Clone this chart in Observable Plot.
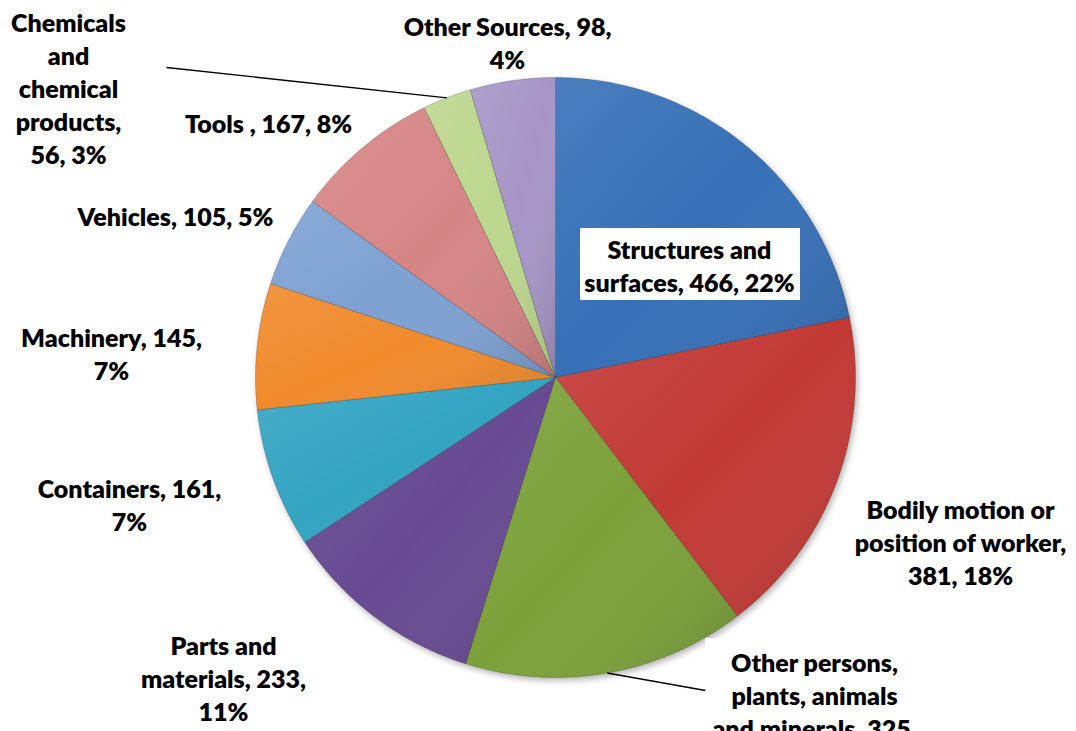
<!DOCTYPE html>
<html><head><meta charset="utf-8">
<script src="https://cdn.jsdelivr.net/npm/d3@7"></script>
<script src="https://cdn.jsdelivr.net/npm/@observablehq/plot@0.6"></script>
<style>
html,body{margin:0;padding:0;background:#fff;}
#chart{width:1076px;height:731px;overflow:hidden;}
</style></head><body><div id="chart"></div>
<script>
// ---- data ----
const categories = ["Structures and surfaces","Bodily motion or position of worker","Other persons, plants, animals and minerals","Parts and materials","Containers","Machinery","Vehicles","Tools","Chemicals and chemical products","Other Sources"];
const values = [466,381,325,233,161,145,105,167,56,98];
const labelTexts = [
  "Structures and\nsurfaces, 466, 22%",
  "Bodily motion or\nposition of worker,\n381, 18%",
  "Other persons,\nplants, animals\nand minerals, 325,\n15%",
  "Parts and\nmaterials, 233,\n11%",
  "Containers, 161,\n7%",
  "Machinery, 145,\n7%",
  "Vehicles, 105, 5%",
  "Tools , 167, 8%",
  "Chemicals\nand\nchemical\nproducts,\n56, 3%",
  "Other Sources, 98,\n4%"
];
// ---- style / layout ----
const colors = ["#3670b7","#c23935","#7ca13a","#674a92","#33a4c2","#f08a2c","#7ea1d2","#d68585","#bcd78e","#a695c6"];
const W = 1076, H = 731, cx = 555, cy = 377, R = 300;
const labelPos = [[689,264],[960,541],[814,710],[223,677],[129,503],[111,352],[175,215],[268,122],[68,87],[507,41]];
const boxes = [{x1:580,x2:800,y1:228,y2:300},{x1:705,x2:925,y1:638,y2:760}];
const leaderEnds = [{i:8, x:166, y:67},{i:2, x:705, y:690}];

const pie = d3.pie().sort(null)(values);
const slicePts = [];
pie.forEach((p, i) => {
  const cat = categories[i];
  slicePts.push({cat, x: cx, y: cy});
  const n = Math.max(2, Math.ceil((p.endAngle - p.startAngle) / 0.01));
  for (let k = 0; k <= n; k++) {
    const a = p.startAngle + (p.endAngle - p.startAngle) * k / n;
    slicePts.push({cat, x: cx + R * Math.sin(a), y: cy - R * Math.cos(a)});
  }
  slicePts.push({cat, x: cx, y: cy});
});
const leaders = leaderEnds.map(d => {
  const p = pie[d.i], a = (p.startAngle + p.endAngle) / 2;
  return {x1: cx + R * Math.sin(a), y1: cy - R * Math.cos(a), x2: d.x, y2: d.y};
});
const labels = labelTexts.map((t, i) => ({text: t, x: labelPos[i][0], y: labelPos[i][1]}));

const defs = () => {
  const g = d3.create("svg:defs");
  const lg = g.append("linearGradient").attr("id", "bevel").attr("x1", 0).attr("y1", 0).attr("x2", 1).attr("y2", 1);
  lg.append("stop").attr("offset", "0%").attr("stop-color", "#fff").attr("stop-opacity", 0.1);
  lg.append("stop").attr("offset", "50%").attr("stop-color", "#fff").attr("stop-opacity", 0);
  lg.append("stop").attr("offset", "100%").attr("stop-color", "#000").attr("stop-opacity", 0.15);
  return g.node();
};

const font = "Lato,'Liberation Sans Narrow',Roboto,sans-serif";

const chart = Plot.plot({
  width: W, height: H, margin: 0,
  x: {type: "linear", domain: [0, W], range: [0, W], axis: null},
  y: {type: "linear", domain: [0, H], range: [0, H], axis: null},
  color: {type: "ordinal", domain: categories, range: colors},
  style: {background: "white", fontFamily: font},
  marks: [
    defs,
    Plot.line(slicePts, {x: "x", y: "y", z: "cat", fill: "cat", stroke: "#000000", strokeOpacity: 0.18, strokeWidth: 1, curve: "linear"}),
    Plot.line(slicePts, {x: "x", y: "y", z: "cat", fill: "url(#bevel)", stroke: "none", curve: "linear"}),
    Plot.rect(boxes, {x1: "x1", x2: "x2", y1: "y1", y2: "y2", fill: "white"}),
    Plot.link(leaders, {x1: "x1", y1: "y1", x2: "x2", y2: "y2", stroke: "black", strokeWidth: 1.3}),
    Plot.text(labels, {x: "x", y: "y", text: "text", fontSize: 25, fontWeight: 800, lineHeight: 1.32, lineAnchor: "middle", textAnchor: "middle", fill: "black", fontFamily: font})
  ]
});
document.getElementById("chart").appendChild(chart);
d3.select(chart).select('g[aria-label="line"]').style("filter", "drop-shadow(2px 3px 3px rgba(0,0,0,0.3))");
</script>
</body></html>
